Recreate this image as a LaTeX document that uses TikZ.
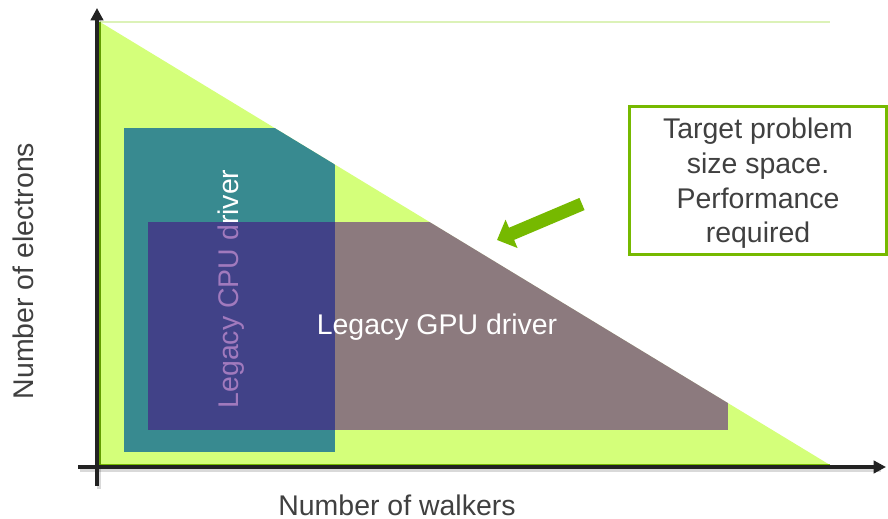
\documentclass[tikz,border=0pt]{standalone}
\usepackage{fontspec}
\setmainfont{Liberation Sans}
\usetikzlibrary{arrows.meta}

\definecolor{limefill}{HTML}{D4FF7A}
\definecolor{limeedge}{HTML}{74B800}
\definecolor{limeline}{HTML}{DCF2B8}
\definecolor{cputeal}{HTML}{388A90}
\definecolor{gpuindigo}{HTML}{4B0082}
\definecolor{nvgreen}{HTML}{76B900}
\definecolor{axisblack}{HTML}{222222}
\definecolor{labelgray}{HTML}{404040}

\tikzset{
  lbl/.style={font=\fontsize{16.2}{19.7}\selectfont, text=labelgray, inner sep=0pt},
  axis/.style={line width=2.5pt, draw=axisblack, -{Triangle[length=7pt,width=7pt]}},
  axisshadow/.style={line width=2.5pt, draw=black, opacity=0.15, shorten >=4pt}
}

\begin{document}
\begin{tikzpicture}[x=0.02cm, y=-0.02cm]
  \useasboundingbox (0,0) rectangle (888,519);

  % corners of the problem space
  \coordinate (top) at (100,22);
  \coordinate (topright) at (830,22);
  \coordinate (origin) at (100,465);
  \coordinate (far) at (830,465);

  \fill[limefill] (top) -- (origin) -- (far) -- cycle;
  \draw[limeline, line width=0.6pt] (top) -- (topright);
  \draw[limeedge, line width=0.8pt] (top) -- (origin) -- (far);

  % driver regions, cut at the diagonal
  \begin{scope}
    \clip (top) -- (origin) -- (far) -- cycle;
    \fill[cputeal] (124,128) rectangle (335,452);
    \node[lbl, text=white, rotate=90] (cpu) at (231,289) {Legacy CPU driver};
    \fill[gpuindigo, opacity=0.52] (148,222) rectangle (728,430);
  \end{scope}
  \node[lbl, text=white] (gpu) at (437,327) {Legacy GPU driver};

  % axes
  \coordinate (ybottom) at (97,486);
  \coordinate (ytop) at (97,8);
  \coordinate (xleft) at (78,467);
  \coordinate (xright) at (886,467);
  \draw[axisshadow] ([shift={(2,3)}]xleft) -- ([shift={(2,3)}]xright);
  \draw[axisshadow] ([shift={(2,3)}]ybottom) -- ([shift={(2,3)}]ytop);
  \draw[axis] (ybottom) -- (ytop);
  \draw[axis] (xleft) -- (xright);

  \node[lbl, rotate=90] (ylabel) at (23,271) {Number of electrons};
  \node[lbl] (xlabel) at (397,505) {Number of walkers};

  % callout
  \node[lbl, draw=nvgreen, line width=1.7pt, align=center,
        minimum width=5.14cm, minimum height=2.96cm] (target) at (758,180.5)
        {\rule{0pt}{15pt}Target problem\\size space.\\Performance\\required};
  \coordinate (tail) at (582,204);
  \coordinate (tip) at (497,240);
  \draw[nvgreen, line width=7.5pt, -{Triangle[length=9pt,width=17pt]}] (tail) -- (tip);
\end{tikzpicture}
\end{document}
